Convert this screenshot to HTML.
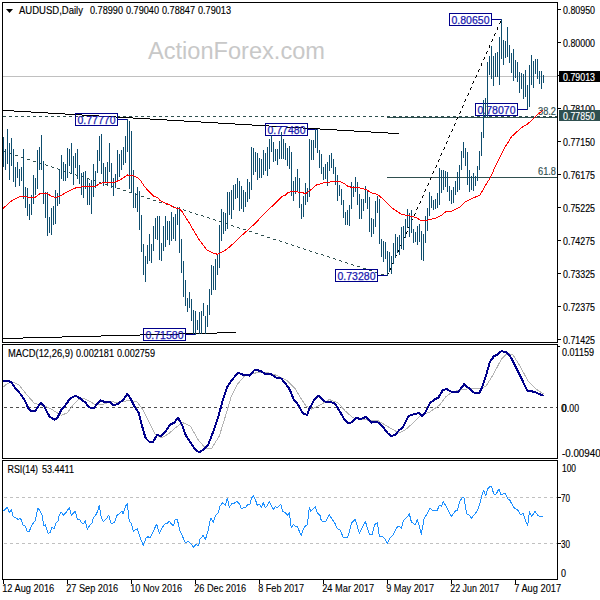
<!DOCTYPE html><html><head><meta charset="utf-8"><style>html,body{margin:0;padding:0;background:#fff;width:600px;height:600px;overflow:hidden}svg{display:block}</style></head><body>
<svg width="600" height="600" viewBox="0 0 600 600" font-family="Liberation Sans, sans-serif">
<rect x="0" y="0" width="600" height="600" fill="#fff"/>
<text x="148" y="58.5" font-size="23.5" fill="#C8C8C8" textLength="177" lengthAdjust="spacingAndGlyphs">ActionForex.com</text>
<rect x="3" y="76" width="554" height="1" fill="#C0C0C0"/>
<g fill="#2F4F4F" shape-rendering="crispEdges"><rect x="3" y="116" width="3" height="1"/><rect x="9" y="116" width="3" height="1"/><rect x="15" y="116" width="3" height="1"/><rect x="21" y="116" width="3" height="1"/><rect x="27" y="116" width="3" height="1"/><rect x="33" y="116" width="3" height="1"/><rect x="39" y="116" width="3" height="1"/><rect x="45" y="116" width="3" height="1"/><rect x="51" y="116" width="3" height="1"/><rect x="57" y="116" width="3" height="1"/><rect x="63" y="116" width="3" height="1"/><rect x="69" y="116" width="3" height="1"/><rect x="75" y="116" width="3" height="1"/><rect x="81" y="116" width="3" height="1"/><rect x="87" y="116" width="3" height="1"/><rect x="93" y="116" width="3" height="1"/><rect x="99" y="116" width="3" height="1"/><rect x="105" y="116" width="3" height="1"/><rect x="111" y="116" width="3" height="1"/><rect x="117" y="116" width="3" height="1"/><rect x="123" y="116" width="3" height="1"/><rect x="129" y="116" width="3" height="1"/><rect x="135" y="116" width="3" height="1"/><rect x="141" y="116" width="3" height="1"/><rect x="147" y="116" width="3" height="1"/><rect x="153" y="116" width="3" height="1"/><rect x="159" y="116" width="3" height="1"/><rect x="165" y="116" width="3" height="1"/><rect x="171" y="116" width="3" height="1"/><rect x="177" y="116" width="3" height="1"/><rect x="183" y="116" width="3" height="1"/><rect x="189" y="116" width="3" height="1"/><rect x="195" y="116" width="3" height="1"/><rect x="201" y="116" width="3" height="1"/><rect x="207" y="116" width="3" height="1"/><rect x="213" y="116" width="3" height="1"/><rect x="219" y="116" width="3" height="1"/><rect x="225" y="116" width="3" height="1"/><rect x="231" y="116" width="3" height="1"/><rect x="237" y="116" width="3" height="1"/><rect x="243" y="116" width="3" height="1"/><rect x="249" y="116" width="3" height="1"/><rect x="255" y="116" width="3" height="1"/><rect x="261" y="116" width="3" height="1"/><rect x="267" y="116" width="3" height="1"/><rect x="273" y="116" width="3" height="1"/><rect x="279" y="116" width="3" height="1"/><rect x="285" y="116" width="3" height="1"/><rect x="291" y="116" width="3" height="1"/><rect x="297" y="116" width="3" height="1"/><rect x="303" y="116" width="3" height="1"/><rect x="309" y="116" width="3" height="1"/><rect x="315" y="116" width="3" height="1"/><rect x="321" y="116" width="3" height="1"/><rect x="327" y="116" width="3" height="1"/><rect x="333" y="116" width="3" height="1"/><rect x="339" y="116" width="3" height="1"/><rect x="345" y="116" width="3" height="1"/><rect x="351" y="116" width="3" height="1"/><rect x="357" y="116" width="3" height="1"/><rect x="363" y="116" width="3" height="1"/><rect x="369" y="116" width="3" height="1"/><rect x="375" y="116" width="3" height="1"/><rect x="381" y="116" width="3" height="1"/><rect x="387" y="116" width="3" height="1"/><rect x="393" y="116" width="3" height="1"/><rect x="399" y="116" width="3" height="1"/><rect x="405" y="116" width="3" height="1"/><rect x="411" y="116" width="3" height="1"/><rect x="417" y="116" width="3" height="1"/><rect x="423" y="116" width="3" height="1"/><rect x="429" y="116" width="3" height="1"/><rect x="435" y="116" width="3" height="1"/><rect x="441" y="116" width="3" height="1"/><rect x="447" y="116" width="3" height="1"/><rect x="453" y="116" width="3" height="1"/><rect x="459" y="116" width="3" height="1"/><rect x="465" y="116" width="3" height="1"/><rect x="471" y="116" width="3" height="1"/><rect x="477" y="116" width="3" height="1"/><rect x="483" y="116" width="3" height="1"/><rect x="489" y="116" width="3" height="1"/><rect x="495" y="116" width="3" height="1"/><rect x="501" y="116" width="3" height="1"/><rect x="507" y="116" width="3" height="1"/><rect x="513" y="116" width="3" height="1"/><rect x="519" y="116" width="3" height="1"/><rect x="525" y="116" width="3" height="1"/><rect x="531" y="116" width="3" height="1"/><rect x="537" y="116" width="3" height="1"/><rect x="543" y="116" width="3" height="1"/><rect x="549" y="116" width="3" height="1"/><rect x="555" y="116" width="2" height="1"/></g>
<rect x="387" y="117" width="170" height="1" fill="#2F4F4F"/>
<rect x="387" y="177" width="170" height="1" fill="#2F4F4F"/>
<text x="538" y="115" font-size="10" fill="#2F4F4F" textLength="18" lengthAdjust="spacingAndGlyphs" stroke="#2F4F4F" stroke-width="0.15">38.2</text>
<text x="538" y="175" font-size="10" fill="#2F4F4F" textLength="18" lengthAdjust="spacingAndGlyphs" stroke="#2F4F4F" stroke-width="0.15">61.8</text>
<g fill="#000" shape-rendering="crispEdges"><rect x="3" y="110" width="11" height="1"/><rect x="14" y="111" width="17" height="1"/><rect x="31" y="112" width="17" height="1"/><rect x="48" y="113" width="17" height="1"/><rect x="65" y="114" width="17" height="1"/><rect x="82" y="115" width="17" height="1"/><rect x="99" y="116" width="17" height="1"/><rect x="116" y="117" width="17" height="1"/><rect x="133" y="118" width="17" height="1"/><rect x="150" y="119" width="17" height="1"/><rect x="167" y="120" width="17" height="1"/><rect x="184" y="121" width="17" height="1"/><rect x="201" y="122" width="17" height="1"/><rect x="218" y="123" width="17" height="1"/><rect x="235" y="124" width="17" height="1"/><rect x="252" y="125" width="17" height="1"/><rect x="269" y="126" width="17" height="1"/><rect x="286" y="127" width="17" height="1"/><rect x="303" y="128" width="17" height="1"/><rect x="320" y="129" width="17" height="1"/><rect x="337" y="130" width="17" height="1"/><rect x="354" y="131" width="17" height="1"/><rect x="371" y="132" width="17" height="1"/><rect x="388" y="133" width="11" height="1"/></g>
<g fill="#000" shape-rendering="crispEdges"><rect x="3" y="338" width="20" height="1"/><rect x="23" y="337" width="39" height="1"/><rect x="62" y="336" width="39" height="1"/><rect x="101" y="335" width="39" height="1"/><rect x="140" y="334" width="39" height="1"/><rect x="179" y="333" width="38" height="1"/><rect x="217" y="332" width="19" height="1"/></g>
<g fill="#2F4F4F" shape-rendering="crispEdges"><rect x="3" y="151" width="3" height="1"/><rect x="9" y="153" width="3" height="1"/><rect x="15" y="155" width="3" height="1"/><rect x="21" y="157" width="3" height="1"/><rect x="27" y="159" width="3" height="1"/><rect x="33" y="161" width="3" height="1"/><rect x="39" y="162" width="1" height="1"/><rect x="40" y="163" width="2" height="1"/><rect x="45" y="164" width="1" height="1"/><rect x="46" y="165" width="2" height="1"/><rect x="51" y="166" width="1" height="1"/><rect x="52" y="167" width="2" height="1"/><rect x="57" y="168" width="1" height="1"/><rect x="58" y="169" width="2" height="1"/><rect x="63" y="170" width="1" height="1"/><rect x="64" y="171" width="2" height="1"/><rect x="69" y="172" width="1" height="1"/><rect x="70" y="173" width="2" height="1"/><rect x="75" y="174" width="1" height="1"/><rect x="76" y="175" width="2" height="1"/><rect x="81" y="176" width="2" height="1"/><rect x="83" y="177" width="1" height="1"/><rect x="87" y="178" width="2" height="1"/><rect x="89" y="179" width="1" height="1"/><rect x="93" y="180" width="2" height="1"/><rect x="95" y="181" width="1" height="1"/><rect x="99" y="182" width="2" height="1"/><rect x="101" y="183" width="1" height="1"/><rect x="105" y="184" width="2" height="1"/><rect x="107" y="185" width="1" height="1"/><rect x="111" y="186" width="2" height="1"/><rect x="113" y="187" width="1" height="1"/><rect x="117" y="188" width="3" height="1"/><rect x="123" y="190" width="3" height="1"/><rect x="129" y="192" width="3" height="1"/><rect x="135" y="194" width="3" height="1"/><rect x="141" y="196" width="3" height="1"/><rect x="147" y="198" width="3" height="1"/><rect x="153" y="200" width="3" height="1"/><rect x="159" y="202" width="3" height="1"/><rect x="165" y="203" width="1" height="1"/><rect x="166" y="204" width="2" height="1"/><rect x="171" y="205" width="1" height="1"/><rect x="172" y="206" width="2" height="1"/><rect x="177" y="207" width="1" height="1"/><rect x="178" y="208" width="2" height="1"/><rect x="183" y="209" width="1" height="1"/><rect x="184" y="210" width="2" height="1"/><rect x="189" y="211" width="1" height="1"/><rect x="190" y="212" width="2" height="1"/><rect x="195" y="213" width="1" height="1"/><rect x="196" y="214" width="2" height="1"/><rect x="201" y="215" width="2" height="1"/><rect x="203" y="216" width="1" height="1"/><rect x="207" y="217" width="2" height="1"/><rect x="209" y="218" width="1" height="1"/><rect x="213" y="219" width="2" height="1"/><rect x="215" y="220" width="1" height="1"/><rect x="219" y="221" width="2" height="1"/><rect x="221" y="222" width="1" height="1"/><rect x="225" y="223" width="2" height="1"/><rect x="227" y="224" width="1" height="1"/><rect x="231" y="225" width="2" height="1"/><rect x="233" y="226" width="1" height="1"/><rect x="237" y="227" width="2" height="1"/><rect x="239" y="228" width="1" height="1"/><rect x="243" y="229" width="3" height="1"/><rect x="249" y="231" width="3" height="1"/><rect x="255" y="233" width="3" height="1"/><rect x="261" y="235" width="3" height="1"/><rect x="267" y="237" width="3" height="1"/><rect x="273" y="239" width="3" height="1"/><rect x="279" y="240" width="1" height="1"/><rect x="280" y="241" width="2" height="1"/><rect x="285" y="242" width="1" height="1"/><rect x="286" y="243" width="2" height="1"/><rect x="291" y="244" width="1" height="1"/><rect x="292" y="245" width="2" height="1"/><rect x="297" y="246" width="1" height="1"/><rect x="298" y="247" width="2" height="1"/><rect x="303" y="248" width="1" height="1"/><rect x="304" y="249" width="2" height="1"/><rect x="309" y="250" width="1" height="1"/><rect x="310" y="251" width="2" height="1"/><rect x="315" y="252" width="1" height="1"/><rect x="316" y="253" width="2" height="1"/><rect x="321" y="254" width="2" height="1"/><rect x="323" y="255" width="1" height="1"/><rect x="327" y="256" width="2" height="1"/><rect x="329" y="257" width="1" height="1"/><rect x="333" y="258" width="2" height="1"/><rect x="335" y="259" width="1" height="1"/><rect x="339" y="260" width="2" height="1"/><rect x="341" y="261" width="1" height="1"/><rect x="345" y="262" width="2" height="1"/><rect x="347" y="263" width="1" height="1"/><rect x="351" y="264" width="2" height="1"/><rect x="353" y="265" width="1" height="1"/><rect x="357" y="266" width="3" height="1"/><rect x="363" y="268" width="3" height="1"/><rect x="369" y="270" width="3" height="1"/><rect x="375" y="272" width="3" height="1"/><rect x="381" y="274" width="3" height="1"/></g>
<g fill="#000" shape-rendering="crispEdges"><rect x="500" y="21" width="1" height="1"/><rect x="500" y="22" width="1" height="1"/><rect x="499" y="23" width="1" height="1"/><rect x="497" y="27" width="1" height="1"/><rect x="497" y="28" width="1" height="1"/><rect x="497" y="29" width="1" height="1"/><rect x="495" y="33" width="1" height="1"/><rect x="494" y="34" width="1" height="1"/><rect x="494" y="35" width="1" height="1"/><rect x="492" y="39" width="1" height="1"/><rect x="492" y="40" width="1" height="1"/><rect x="491" y="41" width="1" height="1"/><rect x="489" y="45" width="1" height="1"/><rect x="489" y="46" width="1" height="1"/><rect x="489" y="47" width="1" height="1"/><rect x="487" y="51" width="1" height="1"/><rect x="486" y="52" width="1" height="1"/><rect x="486" y="53" width="1" height="1"/><rect x="484" y="57" width="1" height="1"/><rect x="484" y="58" width="1" height="1"/><rect x="483" y="59" width="1" height="1"/><rect x="481" y="63" width="1" height="1"/><rect x="481" y="64" width="1" height="1"/><rect x="481" y="65" width="1" height="1"/><rect x="479" y="69" width="1" height="1"/><rect x="478" y="70" width="1" height="1"/><rect x="478" y="71" width="1" height="1"/><rect x="476" y="75" width="1" height="1"/><rect x="476" y="76" width="1" height="1"/><rect x="475" y="77" width="1" height="1"/><rect x="473" y="81" width="1" height="1"/><rect x="473" y="82" width="1" height="1"/><rect x="472" y="83" width="1" height="1"/><rect x="471" y="87" width="1" height="1"/><rect x="470" y="88" width="1" height="1"/><rect x="470" y="89" width="1" height="1"/><rect x="468" y="93" width="1" height="1"/><rect x="468" y="94" width="1" height="1"/><rect x="467" y="95" width="1" height="1"/><rect x="465" y="99" width="1" height="1"/><rect x="465" y="100" width="1" height="1"/><rect x="464" y="101" width="1" height="1"/><rect x="463" y="105" width="1" height="1"/><rect x="462" y="106" width="1" height="1"/><rect x="462" y="107" width="1" height="1"/><rect x="460" y="111" width="1" height="1"/><rect x="460" y="112" width="1" height="1"/><rect x="459" y="113" width="1" height="1"/><rect x="457" y="117" width="1" height="1"/><rect x="457" y="118" width="1" height="1"/><rect x="456" y="119" width="1" height="1"/><rect x="455" y="123" width="1" height="1"/><rect x="454" y="124" width="1" height="1"/><rect x="454" y="125" width="1" height="1"/><rect x="452" y="129" width="1" height="1"/><rect x="452" y="130" width="1" height="1"/><rect x="451" y="131" width="1" height="1"/><rect x="449" y="135" width="1" height="1"/><rect x="449" y="136" width="1" height="1"/><rect x="448" y="137" width="1" height="1"/><rect x="447" y="141" width="1" height="1"/><rect x="446" y="142" width="1" height="1"/><rect x="446" y="143" width="1" height="1"/><rect x="444" y="147" width="1" height="1"/><rect x="444" y="148" width="1" height="1"/><rect x="443" y="149" width="1" height="1"/><rect x="441" y="153" width="1" height="1"/><rect x="441" y="154" width="1" height="1"/><rect x="440" y="155" width="1" height="1"/><rect x="439" y="159" width="1" height="1"/><rect x="438" y="160" width="1" height="1"/><rect x="438" y="161" width="1" height="1"/><rect x="436" y="165" width="1" height="1"/><rect x="436" y="166" width="1" height="1"/><rect x="435" y="167" width="1" height="1"/><rect x="433" y="171" width="1" height="1"/><rect x="433" y="172" width="1" height="1"/><rect x="432" y="173" width="1" height="1"/><rect x="431" y="177" width="1" height="1"/><rect x="430" y="178" width="1" height="1"/><rect x="430" y="179" width="1" height="1"/><rect x="428" y="183" width="1" height="1"/><rect x="428" y="184" width="1" height="1"/><rect x="427" y="185" width="1" height="1"/><rect x="425" y="189" width="1" height="1"/><rect x="425" y="190" width="1" height="1"/><rect x="424" y="191" width="1" height="1"/><rect x="423" y="195" width="1" height="1"/><rect x="422" y="196" width="1" height="1"/><rect x="422" y="197" width="1" height="1"/><rect x="420" y="201" width="1" height="1"/><rect x="420" y="202" width="1" height="1"/><rect x="419" y="203" width="1" height="1"/><rect x="417" y="207" width="1" height="1"/><rect x="417" y="208" width="1" height="1"/><rect x="416" y="209" width="1" height="1"/><rect x="415" y="213" width="1" height="1"/><rect x="414" y="214" width="1" height="1"/><rect x="414" y="215" width="1" height="1"/><rect x="412" y="219" width="1" height="1"/><rect x="411" y="220" width="1" height="1"/><rect x="411" y="221" width="1" height="1"/><rect x="409" y="225" width="1" height="1"/><rect x="409" y="226" width="1" height="1"/><rect x="408" y="227" width="1" height="1"/><rect x="407" y="231" width="1" height="1"/><rect x="406" y="232" width="1" height="1"/><rect x="406" y="233" width="1" height="1"/><rect x="404" y="237" width="1" height="1"/><rect x="403" y="238" width="1" height="1"/><rect x="403" y="239" width="1" height="1"/><rect x="401" y="243" width="1" height="1"/><rect x="401" y="244" width="1" height="1"/><rect x="400" y="245" width="1" height="1"/><rect x="399" y="249" width="1" height="1"/><rect x="398" y="250" width="1" height="1"/><rect x="398" y="251" width="1" height="1"/><rect x="396" y="255" width="1" height="1"/><rect x="395" y="256" width="1" height="1"/><rect x="395" y="257" width="1" height="1"/><rect x="393" y="261" width="1" height="1"/><rect x="393" y="262" width="1" height="1"/><rect x="392" y="263" width="1" height="1"/><rect x="391" y="267" width="1" height="1"/><rect x="390" y="268" width="1" height="1"/><rect x="390" y="269" width="1" height="1"/><rect x="388" y="273" width="1" height="1"/><rect x="387" y="274" width="1" height="1"/><rect x="387" y="275" width="1" height="1"/></g>
<rect x="75.5" y="113.5" width="42" height="12" fill="none" stroke="#00008B" stroke-width="1" shape-rendering="crispEdges"/>
<rect x="118" y="119" width="9" height="1" fill="#00008B"/>
<text x="77.5" y="124" font-size="11" fill="#1A1AB0" textLength="38" lengthAdjust="spacingAndGlyphs" stroke="#1A1AB0" stroke-width="0.25">0.77770</text>
<rect x="265.5" y="123.5" width="42" height="12" fill="none" stroke="#00008B" stroke-width="1" shape-rendering="crispEdges"/>
<rect x="308" y="129" width="9" height="1" fill="#00008B"/>
<text x="267.5" y="134" font-size="11" fill="#1A1AB0" textLength="38" lengthAdjust="spacingAndGlyphs" stroke="#1A1AB0" stroke-width="0.25">0.77480</text>
<rect x="449.5" y="13.5" width="42" height="12" fill="none" stroke="#00008B" stroke-width="1" shape-rendering="crispEdges"/>
<rect x="492" y="19" width="9" height="1" fill="#00008B"/>
<text x="451.5" y="24" font-size="11" fill="#1A1AB0" textLength="38" lengthAdjust="spacingAndGlyphs" stroke="#1A1AB0" stroke-width="0.25">0.80650</text>
<rect x="475.5" y="103.5" width="42" height="12" fill="none" stroke="#00008B" stroke-width="1" shape-rendering="crispEdges"/>
<rect x="518" y="109" width="9" height="1" fill="#00008B"/>
<text x="477.5" y="114" font-size="11" fill="#1A1AB0" textLength="38" lengthAdjust="spacingAndGlyphs" stroke="#1A1AB0" stroke-width="0.25">0.78070</text>
<rect x="335.5" y="269.5" width="42" height="12" fill="none" stroke="#00008B" stroke-width="1" shape-rendering="crispEdges"/>
<rect x="378" y="275" width="9" height="1" fill="#00008B"/>
<text x="337.5" y="280" font-size="11" fill="#1A1AB0" textLength="38" lengthAdjust="spacingAndGlyphs" stroke="#1A1AB0" stroke-width="0.25">0.73280</text>
<rect x="143.5" y="328.5" width="42" height="12" fill="none" stroke="#00008B" stroke-width="1" shape-rendering="crispEdges"/>
<rect x="186" y="334" width="9" height="1" fill="#00008B"/>
<text x="145.5" y="339" font-size="11" fill="#1A1AB0" textLength="38" lengthAdjust="spacingAndGlyphs" stroke="#1A1AB0" stroke-width="0.25">0.71580</text>
<g fill="#0E4D6E" shape-rendering="crispEdges"><rect x="3" y="137" width="1" height="30"/><rect x="5" y="149" width="1" height="21"/><rect x="7" y="129" width="1" height="35"/><rect x="9" y="143" width="1" height="37"/><rect x="11" y="138" width="1" height="28"/><rect x="13" y="149" width="1" height="33"/><rect x="15" y="167" width="1" height="20"/><rect x="17" y="162" width="1" height="16"/><rect x="19" y="169" width="1" height="17"/><rect x="21" y="167" width="1" height="14"/><rect x="23" y="149" width="1" height="50"/><rect x="25" y="187" width="1" height="21"/><rect x="27" y="188" width="1" height="28"/><rect x="29" y="204" width="1" height="16"/><rect x="31" y="195" width="1" height="20"/><rect x="33" y="175" width="1" height="29"/><rect x="35" y="178" width="1" height="17"/><rect x="37" y="150" width="1" height="39"/><rect x="39" y="147" width="1" height="23"/><rect x="41" y="135" width="1" height="35"/><rect x="43" y="161" width="1" height="43"/><rect x="45" y="192" width="1" height="26"/><rect x="47" y="192" width="1" height="44"/><rect x="49" y="217" width="1" height="16"/><rect x="51" y="208" width="1" height="27"/><rect x="53" y="206" width="1" height="19"/><rect x="55" y="190" width="1" height="34"/><rect x="57" y="193" width="1" height="13"/><rect x="59" y="169" width="1" height="35"/><rect x="61" y="155" width="1" height="24"/><rect x="63" y="162" width="1" height="19"/><rect x="65" y="164" width="1" height="17"/><rect x="67" y="148" width="1" height="30"/><rect x="69" y="149" width="1" height="17"/><rect x="71" y="143" width="1" height="31"/><rect x="73" y="156" width="1" height="29"/><rect x="75" y="153" width="1" height="15"/><rect x="77" y="149" width="1" height="30"/><rect x="79" y="165" width="1" height="19"/><rect x="81" y="173" width="1" height="22"/><rect x="83" y="172" width="1" height="26"/><rect x="85" y="171" width="1" height="18"/><rect x="87" y="179" width="1" height="26"/><rect x="89" y="183" width="1" height="22"/><rect x="91" y="180" width="1" height="34"/><rect x="93" y="164" width="1" height="33"/><rect x="95" y="171" width="1" height="17"/><rect x="97" y="150" width="1" height="23"/><rect x="99" y="136" width="1" height="25"/><rect x="101" y="134" width="1" height="40"/><rect x="103" y="163" width="1" height="23"/><rect x="105" y="167" width="1" height="16"/><rect x="107" y="162" width="1" height="23"/><rect x="109" y="143" width="1" height="29"/><rect x="111" y="163" width="1" height="25"/><rect x="113" y="178" width="1" height="18"/><rect x="115" y="174" width="1" height="14"/><rect x="117" y="150" width="1" height="31"/><rect x="119" y="154" width="1" height="23"/><rect x="121" y="150" width="1" height="20"/><rect x="123" y="147" width="1" height="18"/><rect x="125" y="136" width="1" height="27"/><rect x="127" y="119" width="1" height="33"/><rect x="129" y="121" width="1" height="68"/><rect x="131" y="131" width="1" height="62"/><rect x="133" y="170" width="1" height="38"/><rect x="135" y="193" width="1" height="15"/><rect x="137" y="187" width="1" height="25"/><rect x="139" y="191" width="1" height="39"/><rect x="141" y="215" width="1" height="37"/><rect x="143" y="244" width="1" height="31"/><rect x="145" y="256" width="1" height="26"/><rect x="147" y="245" width="1" height="19"/><rect x="149" y="234" width="1" height="27"/><rect x="151" y="244" width="1" height="19"/><rect x="153" y="226" width="1" height="25"/><rect x="155" y="218" width="1" height="21"/><rect x="157" y="216" width="1" height="24"/><rect x="159" y="216" width="1" height="44"/><rect x="161" y="243" width="1" height="18"/><rect x="163" y="226" width="1" height="25"/><rect x="165" y="216" width="1" height="31"/><rect x="167" y="221" width="1" height="19"/><rect x="169" y="221" width="1" height="24"/><rect x="171" y="212" width="1" height="29"/><rect x="173" y="217" width="1" height="22"/><rect x="175" y="214" width="1" height="27"/><rect x="177" y="208" width="1" height="17"/><rect x="179" y="207" width="1" height="46"/><rect x="181" y="239" width="1" height="34"/><rect x="183" y="261" width="1" height="36"/><rect x="185" y="280" width="1" height="26"/><rect x="187" y="298" width="1" height="14"/><rect x="189" y="292" width="1" height="16"/><rect x="191" y="299" width="1" height="22"/><rect x="193" y="310" width="1" height="24"/><rect x="195" y="311" width="1" height="24"/><rect x="197" y="320" width="1" height="10"/><rect x="199" y="312" width="1" height="22"/><rect x="201" y="311" width="1" height="23"/><rect x="203" y="303" width="1" height="13"/><rect x="205" y="316" width="1" height="18"/><rect x="207" y="305" width="1" height="22"/><rect x="209" y="289" width="1" height="26"/><rect x="211" y="265" width="1" height="30"/><rect x="213" y="266" width="1" height="24"/><rect x="215" y="259" width="1" height="31"/><rect x="217" y="254" width="1" height="21"/><rect x="219" y="225" width="1" height="43"/><rect x="221" y="209" width="1" height="32"/><rect x="223" y="212" width="1" height="22"/><rect x="225" y="213" width="1" height="18"/><rect x="227" y="192" width="1" height="37"/><rect x="229" y="192" width="1" height="23"/><rect x="231" y="190" width="1" height="29"/><rect x="233" y="185" width="1" height="25"/><rect x="235" y="184" width="1" height="15"/><rect x="237" y="178" width="1" height="20"/><rect x="239" y="181" width="1" height="30"/><rect x="241" y="186" width="1" height="23"/><rect x="243" y="190" width="1" height="22"/><rect x="245" y="192" width="1" height="15"/><rect x="247" y="179" width="1" height="23"/><rect x="249" y="182" width="1" height="17"/><rect x="251" y="147" width="1" height="43"/><rect x="253" y="148" width="1" height="27"/><rect x="255" y="152" width="1" height="20"/><rect x="257" y="153" width="1" height="27"/><rect x="259" y="158" width="1" height="20"/><rect x="261" y="159" width="1" height="19"/><rect x="263" y="150" width="1" height="25"/><rect x="265" y="153" width="1" height="18"/><rect x="267" y="147" width="1" height="29"/><rect x="269" y="139" width="1" height="30"/><rect x="271" y="135" width="1" height="17"/><rect x="273" y="142" width="1" height="20"/><rect x="275" y="149" width="1" height="12"/><rect x="277" y="149" width="1" height="16"/><rect x="279" y="141" width="1" height="18"/><rect x="281" y="132" width="1" height="27"/><rect x="283" y="139" width="1" height="20"/><rect x="285" y="143" width="1" height="17"/><rect x="287" y="148" width="1" height="18"/><rect x="289" y="146" width="1" height="23"/><rect x="291" y="152" width="1" height="44"/><rect x="293" y="181" width="1" height="20"/><rect x="295" y="177" width="1" height="17"/><rect x="297" y="169" width="1" height="23"/><rect x="299" y="178" width="1" height="30"/><rect x="301" y="204" width="1" height="15"/><rect x="303" y="196" width="1" height="21"/><rect x="305" y="183" width="1" height="22"/><rect x="307" y="188" width="1" height="14"/><rect x="309" y="139" width="1" height="58"/><rect x="311" y="140" width="1" height="20"/><rect x="313" y="140" width="1" height="20"/><rect x="315" y="129" width="1" height="19"/><rect x="317" y="129" width="1" height="24"/><rect x="319" y="150" width="1" height="18"/><rect x="321" y="154" width="1" height="20"/><rect x="323" y="167" width="1" height="13"/><rect x="325" y="164" width="1" height="15"/><rect x="327" y="162" width="1" height="24"/><rect x="329" y="155" width="1" height="16"/><rect x="331" y="153" width="1" height="15"/><rect x="333" y="159" width="1" height="15"/><rect x="335" y="167" width="1" height="18"/><rect x="337" y="175" width="1" height="26"/><rect x="339" y="185" width="1" height="11"/><rect x="341" y="189" width="1" height="16"/><rect x="343" y="200" width="1" height="18"/><rect x="345" y="212" width="1" height="13"/><rect x="347" y="210" width="1" height="15"/><rect x="349" y="205" width="1" height="21"/><rect x="351" y="182" width="1" height="27"/><rect x="353" y="186" width="1" height="11"/><rect x="355" y="177" width="1" height="15"/><rect x="357" y="182" width="1" height="23"/><rect x="359" y="194" width="1" height="25"/><rect x="361" y="199" width="1" height="20"/><rect x="363" y="199" width="1" height="12"/><rect x="365" y="186" width="1" height="17"/><rect x="367" y="191" width="1" height="18"/><rect x="369" y="197" width="1" height="35"/><rect x="371" y="218" width="1" height="19"/><rect x="373" y="219" width="1" height="15"/><rect x="375" y="201" width="1" height="26"/><rect x="377" y="196" width="1" height="17"/><rect x="379" y="199" width="1" height="45"/><rect x="381" y="239" width="1" height="18"/><rect x="383" y="241" width="1" height="21"/><rect x="385" y="242" width="1" height="17"/><rect x="387" y="251" width="1" height="25"/><rect x="389" y="252" width="1" height="20"/><rect x="391" y="256" width="1" height="18"/><rect x="393" y="243" width="1" height="21"/><rect x="395" y="234" width="1" height="24"/><rect x="397" y="237" width="1" height="16"/><rect x="399" y="235" width="1" height="20"/><rect x="401" y="227" width="1" height="22"/><rect x="403" y="226" width="1" height="24"/><rect x="405" y="219" width="1" height="19"/><rect x="407" y="209" width="1" height="19"/><rect x="409" y="213" width="1" height="24"/><rect x="411" y="210" width="1" height="23"/><rect x="413" y="229" width="1" height="14"/><rect x="415" y="232" width="1" height="10"/><rect x="417" y="226" width="1" height="19"/><rect x="419" y="224" width="1" height="18"/><rect x="421" y="231" width="1" height="29"/><rect x="423" y="234" width="1" height="27"/><rect x="425" y="216" width="1" height="27"/><rect x="427" y="208" width="1" height="23"/><rect x="429" y="192" width="1" height="24"/><rect x="431" y="196" width="1" height="12"/><rect x="433" y="200" width="1" height="10"/><rect x="435" y="199" width="1" height="10"/><rect x="437" y="193" width="1" height="15"/><rect x="439" y="168" width="1" height="37"/><rect x="441" y="170" width="1" height="23"/><rect x="443" y="170" width="1" height="20"/><rect x="445" y="171" width="1" height="16"/><rect x="447" y="172" width="1" height="20"/><rect x="449" y="186" width="1" height="15"/><rect x="451" y="190" width="1" height="14"/><rect x="453" y="187" width="1" height="16"/><rect x="455" y="181" width="1" height="14"/><rect x="457" y="172" width="1" height="20"/><rect x="459" y="165" width="1" height="25"/><rect x="461" y="151" width="1" height="19"/><rect x="463" y="142" width="1" height="16"/><rect x="465" y="148" width="1" height="18"/><rect x="467" y="152" width="1" height="33"/><rect x="469" y="170" width="1" height="22"/><rect x="471" y="176" width="1" height="14"/><rect x="473" y="173" width="1" height="18"/><rect x="475" y="176" width="1" height="10"/><rect x="477" y="166" width="1" height="15"/><rect x="479" y="151" width="1" height="19"/><rect x="481" y="132" width="1" height="24"/><rect x="483" y="100" width="1" height="38"/><rect x="485" y="98" width="1" height="19"/><rect x="487" y="62" width="1" height="55"/><rect x="489" y="56" width="1" height="19"/><rect x="491" y="46" width="1" height="33"/><rect x="493" y="56" width="1" height="30"/><rect x="495" y="53" width="1" height="24"/><rect x="497" y="52" width="1" height="25"/><rect x="499" y="37" width="1" height="48"/><rect x="501" y="19" width="1" height="40"/><rect x="503" y="40" width="1" height="25"/><rect x="505" y="41" width="1" height="17"/><rect x="507" y="27" width="1" height="30"/><rect x="509" y="45" width="1" height="18"/><rect x="511" y="53" width="1" height="20"/><rect x="513" y="49" width="1" height="32"/><rect x="515" y="60" width="1" height="18"/><rect x="517" y="62" width="1" height="20"/><rect x="519" y="72" width="1" height="21"/><rect x="521" y="73" width="1" height="16"/><rect x="523" y="74" width="1" height="25"/><rect x="525" y="70" width="1" height="27"/><rect x="527" y="85" width="1" height="25"/><rect x="529" y="65" width="1" height="42"/><rect x="531" y="55" width="1" height="30"/><rect x="533" y="61" width="1" height="27"/><rect x="535" y="59" width="1" height="15"/><rect x="537" y="59" width="1" height="20"/><rect x="539" y="71" width="1" height="13"/><rect x="541" y="71" width="1" height="18"/><rect x="543" y="75" width="1" height="8"/></g>
<polyline fill="none" stroke="#FF0000" stroke-width="1" stroke-linejoin="round" shape-rendering="crispEdges" points="3.0,208.5 12.0,200.5 20.0,196.5 27.0,197.0 35.0,197.5 40.0,193.5 46.0,193.0 52.0,196.5 56.0,197.5 60.0,196.0 68.0,191.5 76.5,187.5 85.0,186.5 94.0,187.0 100.0,183.5 107.0,182.0 115.0,182.0 120.0,180.0 127.5,175.0 133.0,175.5 137.5,177.5 141.0,181.0 144.0,186.0 149.0,191.5 154.0,196.5 157.5,197.5 160.0,200.5 164.0,202.5 170.0,205.0 174.0,207.5 180.0,209.0 183.0,213.0 186.0,218.0 190.0,224.0 193.0,229.5 200.0,241.0 207.0,250.0 213.0,253.0 217.5,254.3 220.0,253.2 225.0,250.5 230.0,246.5 235.0,242.0 240.0,237.0 254.0,224.5 265.0,213.0 275.0,203.5 282.5,196.2 285.0,195.5 288.5,192.2 294.0,191.5 300.0,192.3 306.0,193.5 310.0,190.5 316.5,185.0 323.0,183.0 330.0,182.0 340.0,181.5 344.0,183.5 347.5,186.0 352.0,187.5 358.0,187.5 366.0,189.5 372.0,193.0 377.5,194.5 383.0,199.0 387.0,203.0 392.0,208.0 398.0,212.0 402.0,214.5 408.0,215.5 416.0,217.5 421.0,220.5 428.0,220.0 432.0,219.0 436.0,218.0 442.0,215.0 446.0,211.5 452.0,211.0 460.0,207.0 465.0,202.0 470.0,199.5 480.0,195.0 486.3,184.1 491.1,176.2 495.8,165.1 503.7,149.3 511.6,136.6 521.1,127.9 527.5,124.0 533.8,118.4 538.5,113.7 543.0,110.5"/>
<g fill="#505050" shape-rendering="crispEdges"><rect x="4" y="407" width="3" height="1"/><rect x="10" y="407" width="3" height="1"/><rect x="16" y="407" width="3" height="1"/><rect x="22" y="407" width="3" height="1"/><rect x="28" y="407" width="3" height="1"/><rect x="34" y="407" width="3" height="1"/><rect x="40" y="407" width="3" height="1"/><rect x="46" y="407" width="3" height="1"/><rect x="52" y="407" width="3" height="1"/><rect x="58" y="407" width="3" height="1"/><rect x="64" y="407" width="3" height="1"/><rect x="70" y="407" width="3" height="1"/><rect x="76" y="407" width="3" height="1"/><rect x="82" y="407" width="3" height="1"/><rect x="88" y="407" width="3" height="1"/><rect x="94" y="407" width="3" height="1"/><rect x="100" y="407" width="3" height="1"/><rect x="106" y="407" width="3" height="1"/><rect x="112" y="407" width="3" height="1"/><rect x="118" y="407" width="3" height="1"/><rect x="124" y="407" width="3" height="1"/><rect x="130" y="407" width="3" height="1"/><rect x="136" y="407" width="3" height="1"/><rect x="142" y="407" width="3" height="1"/><rect x="148" y="407" width="3" height="1"/><rect x="154" y="407" width="3" height="1"/><rect x="160" y="407" width="3" height="1"/><rect x="166" y="407" width="3" height="1"/><rect x="172" y="407" width="3" height="1"/><rect x="178" y="407" width="3" height="1"/><rect x="184" y="407" width="3" height="1"/><rect x="190" y="407" width="3" height="1"/><rect x="196" y="407" width="3" height="1"/><rect x="202" y="407" width="3" height="1"/><rect x="208" y="407" width="3" height="1"/><rect x="214" y="407" width="3" height="1"/><rect x="220" y="407" width="3" height="1"/><rect x="226" y="407" width="3" height="1"/><rect x="232" y="407" width="3" height="1"/><rect x="238" y="407" width="3" height="1"/><rect x="244" y="407" width="3" height="1"/><rect x="250" y="407" width="3" height="1"/><rect x="256" y="407" width="3" height="1"/><rect x="262" y="407" width="3" height="1"/><rect x="268" y="407" width="3" height="1"/><rect x="274" y="407" width="3" height="1"/><rect x="280" y="407" width="3" height="1"/><rect x="286" y="407" width="3" height="1"/><rect x="292" y="407" width="3" height="1"/><rect x="298" y="407" width="3" height="1"/><rect x="304" y="407" width="3" height="1"/><rect x="310" y="407" width="3" height="1"/><rect x="316" y="407" width="3" height="1"/><rect x="322" y="407" width="3" height="1"/><rect x="328" y="407" width="3" height="1"/><rect x="334" y="407" width="3" height="1"/><rect x="340" y="407" width="3" height="1"/><rect x="346" y="407" width="3" height="1"/><rect x="352" y="407" width="3" height="1"/><rect x="358" y="407" width="3" height="1"/><rect x="364" y="407" width="3" height="1"/><rect x="370" y="407" width="3" height="1"/><rect x="376" y="407" width="3" height="1"/><rect x="382" y="407" width="3" height="1"/><rect x="388" y="407" width="3" height="1"/><rect x="394" y="407" width="3" height="1"/><rect x="400" y="407" width="3" height="1"/><rect x="406" y="407" width="3" height="1"/><rect x="412" y="407" width="3" height="1"/><rect x="418" y="407" width="3" height="1"/><rect x="424" y="407" width="3" height="1"/><rect x="430" y="407" width="3" height="1"/><rect x="436" y="407" width="3" height="1"/><rect x="442" y="407" width="3" height="1"/><rect x="448" y="407" width="3" height="1"/><rect x="454" y="407" width="3" height="1"/><rect x="460" y="407" width="3" height="1"/><rect x="466" y="407" width="3" height="1"/><rect x="472" y="407" width="3" height="1"/><rect x="478" y="407" width="3" height="1"/><rect x="484" y="407" width="3" height="1"/><rect x="490" y="407" width="3" height="1"/><rect x="496" y="407" width="3" height="1"/><rect x="502" y="407" width="3" height="1"/><rect x="508" y="407" width="3" height="1"/><rect x="514" y="407" width="3" height="1"/><rect x="520" y="407" width="3" height="1"/><rect x="526" y="407" width="3" height="1"/><rect x="532" y="407" width="3" height="1"/><rect x="538" y="407" width="3" height="1"/><rect x="544" y="407" width="3" height="1"/><rect x="550" y="407" width="3" height="1"/><rect x="556" y="407" width="1" height="1"/></g>
<polyline fill="none" stroke="#B4B4B4" stroke-width="1" stroke-linejoin="round" shape-rendering="crispEdges" points="3.0,387.1 7.7,383.3 13.4,382.3 19.2,385.2 26.8,394.8 34.5,403.4 42.2,405.3 49.8,408.2 57.5,413.0 61.3,415.3 67.1,413.0 72.8,405.3 78.6,399.6 84.3,398.6 90.1,401.5 95.8,405.0 103.5,404.4 110.0,401.5 117.7,402.5 129.2,400.5 136.8,401.5 142.6,409.2 148.3,420.7 155.0,434.1 161.8,437.9 169.4,433.1 177.1,426.4 182.8,422.6 190.5,426.4 198.2,439.8 205.8,448.5 211.6,448.5 219.3,436.0 225.8,414.9 231.5,395.8 237.3,384.3 244.9,375.6 256.4,372.8 267.9,372.8 277.5,375.6 287.1,380.4 294.8,388.1 300.5,397.7 306.3,406.3 312.0,409.2 319.7,405.3 329.3,399.6 337.7,402.5 345.3,411.1 353.0,417.8 362.6,419.7 377.9,420.7 387.5,426.4 399.0,433.1 404.8,430.3 412.4,423.5 420.1,415.9 429.7,412.0 439.3,405.3 445.8,396.7 452.5,391.9 461.1,390.0 472.6,388.1 480.3,389.0 486.0,386.2 493.7,373.7 501.3,359.3 507.1,353.6 512.8,354.5 520.5,367.0 528.2,381.4 535.8,389.0 543.5,393.8"/>
<polyline fill="none" stroke="#00008B" stroke-width="2" stroke-linejoin="round" shape-rendering="crispEdges" points="3.0,381.4 7.7,380.8 11.5,382.3 15.3,388.1 21.1,394.8 24.9,400.5 28.8,409.2 30.7,410.7 35.5,410.7 38.3,406.3 41.2,402.8 44.1,406.3 47.0,412.0 49.8,416.8 54.6,419.7 57.5,417.8 61.3,410.1 66.1,404.4 70.0,398.6 75.7,395.8 80.5,398.6 85.3,402.5 89.1,407.3 93.9,408.2 96.8,404.4 100.6,400.2 104.5,402.1 109.3,401.5 113.8,405.3 118.6,403.4 123.4,399.6 127.3,393.8 131.1,399.6 134.9,407.3 138.8,413.0 141.6,424.5 145.5,437.9 149.3,441.8 153.1,441.8 157.0,435.0 160.8,436.0 165.6,431.2 170.4,424.5 174.2,422.6 178.0,417.8 181.9,424.5 185.7,435.0 190.5,442.7 195.3,449.4 199.1,452.3 203.9,449.4 207.8,445.6 213.5,431.2 218.3,416.8 222.9,399.6 226.7,388.1 231.5,380.4 238.2,372.8 243.0,374.7 249.7,375.6 254.5,369.9 260.3,370.8 266.0,374.3 270.8,373.7 275.6,377.5 281.3,378.5 289.0,388.1 293.8,399.6 298.6,405.3 302.4,413.0 307.2,414.9 309.1,409.2 314.9,398.6 318.7,395.8 324.5,401.5 330.2,402.1 334.8,403.4 339.6,411.1 343.4,417.8 347.3,422.6 351.1,422.6 355.9,417.8 360.7,419.1 366.4,416.8 371.2,422.6 377.0,421.6 381.8,425.5 387.5,433.1 391.3,436.0 395.2,435.0 399.0,430.3 402.8,427.4 408.6,415.9 414.3,414.0 419.1,413.0 422.0,415.9 424.9,413.0 429.7,403.4 434.5,399.6 438.3,397.7 442.9,390.0 446.7,389.0 451.5,391.9 458.2,391.9 464.0,384.3 468.8,388.1 474.5,392.9 479.3,392.9 482.2,387.1 486.0,375.6 489.8,362.2 493.7,356.5 497.5,354.5 501.3,351.3 506.1,352.0 510.9,357.4 516.7,368.9 522.4,380.4 527.2,390.6 534.9,391.9 538.7,393.8 543.5,395.8"/>
<text x="8" y="357" font-size="10" fill="#000" textLength="65" lengthAdjust="spacingAndGlyphs" stroke="#000" stroke-width="0.15">MACD(12,26,9)</text>
<text x="76" y="357" font-size="10" fill="#000" textLength="38" lengthAdjust="spacingAndGlyphs" stroke="#000" stroke-width="0.15">0.002181</text>
<text x="117" y="357" font-size="10" fill="#000" textLength="38" lengthAdjust="spacingAndGlyphs" stroke="#000" stroke-width="0.15">0.002759</text>
<g fill="#C0C0C0" shape-rendering="crispEdges"><rect x="4" y="497" width="3" height="1"/><rect x="10" y="497" width="3" height="1"/><rect x="16" y="497" width="3" height="1"/><rect x="22" y="497" width="3" height="1"/><rect x="28" y="497" width="3" height="1"/><rect x="34" y="497" width="3" height="1"/><rect x="40" y="497" width="3" height="1"/><rect x="46" y="497" width="3" height="1"/><rect x="52" y="497" width="3" height="1"/><rect x="58" y="497" width="3" height="1"/><rect x="64" y="497" width="3" height="1"/><rect x="70" y="497" width="3" height="1"/><rect x="76" y="497" width="3" height="1"/><rect x="82" y="497" width="3" height="1"/><rect x="88" y="497" width="3" height="1"/><rect x="94" y="497" width="3" height="1"/><rect x="100" y="497" width="3" height="1"/><rect x="106" y="497" width="3" height="1"/><rect x="112" y="497" width="3" height="1"/><rect x="118" y="497" width="3" height="1"/><rect x="124" y="497" width="3" height="1"/><rect x="130" y="497" width="3" height="1"/><rect x="136" y="497" width="3" height="1"/><rect x="142" y="497" width="3" height="1"/><rect x="148" y="497" width="3" height="1"/><rect x="154" y="497" width="3" height="1"/><rect x="160" y="497" width="3" height="1"/><rect x="166" y="497" width="3" height="1"/><rect x="172" y="497" width="3" height="1"/><rect x="178" y="497" width="3" height="1"/><rect x="184" y="497" width="3" height="1"/><rect x="190" y="497" width="3" height="1"/><rect x="196" y="497" width="3" height="1"/><rect x="202" y="497" width="3" height="1"/><rect x="208" y="497" width="3" height="1"/><rect x="214" y="497" width="3" height="1"/><rect x="220" y="497" width="3" height="1"/><rect x="226" y="497" width="3" height="1"/><rect x="232" y="497" width="3" height="1"/><rect x="238" y="497" width="3" height="1"/><rect x="244" y="497" width="3" height="1"/><rect x="250" y="497" width="3" height="1"/><rect x="256" y="497" width="3" height="1"/><rect x="262" y="497" width="3" height="1"/><rect x="268" y="497" width="3" height="1"/><rect x="274" y="497" width="3" height="1"/><rect x="280" y="497" width="3" height="1"/><rect x="286" y="497" width="3" height="1"/><rect x="292" y="497" width="3" height="1"/><rect x="298" y="497" width="3" height="1"/><rect x="304" y="497" width="3" height="1"/><rect x="310" y="497" width="3" height="1"/><rect x="316" y="497" width="3" height="1"/><rect x="322" y="497" width="3" height="1"/><rect x="328" y="497" width="3" height="1"/><rect x="334" y="497" width="3" height="1"/><rect x="340" y="497" width="3" height="1"/><rect x="346" y="497" width="3" height="1"/><rect x="352" y="497" width="3" height="1"/><rect x="358" y="497" width="3" height="1"/><rect x="364" y="497" width="3" height="1"/><rect x="370" y="497" width="3" height="1"/><rect x="376" y="497" width="3" height="1"/><rect x="382" y="497" width="3" height="1"/><rect x="388" y="497" width="3" height="1"/><rect x="394" y="497" width="3" height="1"/><rect x="400" y="497" width="3" height="1"/><rect x="406" y="497" width="3" height="1"/><rect x="412" y="497" width="3" height="1"/><rect x="418" y="497" width="3" height="1"/><rect x="424" y="497" width="3" height="1"/><rect x="430" y="497" width="3" height="1"/><rect x="436" y="497" width="3" height="1"/><rect x="442" y="497" width="3" height="1"/><rect x="448" y="497" width="3" height="1"/><rect x="454" y="497" width="3" height="1"/><rect x="460" y="497" width="3" height="1"/><rect x="466" y="497" width="3" height="1"/><rect x="472" y="497" width="3" height="1"/><rect x="478" y="497" width="3" height="1"/><rect x="484" y="497" width="3" height="1"/><rect x="490" y="497" width="3" height="1"/><rect x="496" y="497" width="3" height="1"/><rect x="502" y="497" width="3" height="1"/><rect x="508" y="497" width="3" height="1"/><rect x="514" y="497" width="3" height="1"/><rect x="520" y="497" width="3" height="1"/><rect x="526" y="497" width="3" height="1"/><rect x="532" y="497" width="3" height="1"/><rect x="538" y="497" width="3" height="1"/><rect x="544" y="497" width="3" height="1"/><rect x="550" y="497" width="3" height="1"/><rect x="556" y="497" width="1" height="1"/></g>
<g fill="#C0C0C0" shape-rendering="crispEdges"><rect x="4" y="543" width="3" height="1"/><rect x="10" y="543" width="3" height="1"/><rect x="16" y="543" width="3" height="1"/><rect x="22" y="543" width="3" height="1"/><rect x="28" y="543" width="3" height="1"/><rect x="34" y="543" width="3" height="1"/><rect x="40" y="543" width="3" height="1"/><rect x="46" y="543" width="3" height="1"/><rect x="52" y="543" width="3" height="1"/><rect x="58" y="543" width="3" height="1"/><rect x="64" y="543" width="3" height="1"/><rect x="70" y="543" width="3" height="1"/><rect x="76" y="543" width="3" height="1"/><rect x="82" y="543" width="3" height="1"/><rect x="88" y="543" width="3" height="1"/><rect x="94" y="543" width="3" height="1"/><rect x="100" y="543" width="3" height="1"/><rect x="106" y="543" width="3" height="1"/><rect x="112" y="543" width="3" height="1"/><rect x="118" y="543" width="3" height="1"/><rect x="124" y="543" width="3" height="1"/><rect x="130" y="543" width="3" height="1"/><rect x="136" y="543" width="3" height="1"/><rect x="142" y="543" width="3" height="1"/><rect x="148" y="543" width="3" height="1"/><rect x="154" y="543" width="3" height="1"/><rect x="160" y="543" width="3" height="1"/><rect x="166" y="543" width="3" height="1"/><rect x="172" y="543" width="3" height="1"/><rect x="178" y="543" width="3" height="1"/><rect x="184" y="543" width="3" height="1"/><rect x="190" y="543" width="3" height="1"/><rect x="196" y="543" width="3" height="1"/><rect x="202" y="543" width="3" height="1"/><rect x="208" y="543" width="3" height="1"/><rect x="214" y="543" width="3" height="1"/><rect x="220" y="543" width="3" height="1"/><rect x="226" y="543" width="3" height="1"/><rect x="232" y="543" width="3" height="1"/><rect x="238" y="543" width="3" height="1"/><rect x="244" y="543" width="3" height="1"/><rect x="250" y="543" width="3" height="1"/><rect x="256" y="543" width="3" height="1"/><rect x="262" y="543" width="3" height="1"/><rect x="268" y="543" width="3" height="1"/><rect x="274" y="543" width="3" height="1"/><rect x="280" y="543" width="3" height="1"/><rect x="286" y="543" width="3" height="1"/><rect x="292" y="543" width="3" height="1"/><rect x="298" y="543" width="3" height="1"/><rect x="304" y="543" width="3" height="1"/><rect x="310" y="543" width="3" height="1"/><rect x="316" y="543" width="3" height="1"/><rect x="322" y="543" width="3" height="1"/><rect x="328" y="543" width="3" height="1"/><rect x="334" y="543" width="3" height="1"/><rect x="340" y="543" width="3" height="1"/><rect x="346" y="543" width="3" height="1"/><rect x="352" y="543" width="3" height="1"/><rect x="358" y="543" width="3" height="1"/><rect x="364" y="543" width="3" height="1"/><rect x="370" y="543" width="3" height="1"/><rect x="376" y="543" width="3" height="1"/><rect x="382" y="543" width="3" height="1"/><rect x="388" y="543" width="3" height="1"/><rect x="394" y="543" width="3" height="1"/><rect x="400" y="543" width="3" height="1"/><rect x="406" y="543" width="3" height="1"/><rect x="412" y="543" width="3" height="1"/><rect x="418" y="543" width="3" height="1"/><rect x="424" y="543" width="3" height="1"/><rect x="430" y="543" width="3" height="1"/><rect x="436" y="543" width="3" height="1"/><rect x="442" y="543" width="3" height="1"/><rect x="448" y="543" width="3" height="1"/><rect x="454" y="543" width="3" height="1"/><rect x="460" y="543" width="3" height="1"/><rect x="466" y="543" width="3" height="1"/><rect x="472" y="543" width="3" height="1"/><rect x="478" y="543" width="3" height="1"/><rect x="484" y="543" width="3" height="1"/><rect x="490" y="543" width="3" height="1"/><rect x="496" y="543" width="3" height="1"/><rect x="502" y="543" width="3" height="1"/><rect x="508" y="543" width="3" height="1"/><rect x="514" y="543" width="3" height="1"/><rect x="520" y="543" width="3" height="1"/><rect x="526" y="543" width="3" height="1"/><rect x="532" y="543" width="3" height="1"/><rect x="538" y="543" width="3" height="1"/><rect x="544" y="543" width="3" height="1"/><rect x="550" y="543" width="3" height="1"/><rect x="556" y="543" width="1" height="1"/></g>
<polyline fill="none" stroke="#1E90FF" stroke-width="1" stroke-linejoin="round" shape-rendering="crispEdges" points="3.3,511.3 7.3,507.3 9.3,512.7 11.3,509.3 13.3,516.7 15.3,517.3 18.0,519.3 20.7,518.7 23.3,525.3 25.3,526.0 27.3,532.0 29.3,531.3 32.0,524.7 35.3,520.7 37.7,508.0 40.0,510.7 42.0,515.3 44.0,526.0 45.3,524.7 48.0,533.3 50.0,532.7 52.0,527.3 54.0,529.3 56.0,523.3 58.0,520.7 59.3,514.7 61.3,512.0 63.3,515.3 66.0,512.7 69.3,507.3 71.3,515.3 75.3,511.3 77.3,519.3 80.0,520.0 82.0,523.3 84.0,523.3 85.3,520.7 87.3,529.3 89.3,526.0 92.0,523.3 93.3,518.0 95.3,516.0 97.3,512.0 99.3,505.3 101.3,517.3 103.3,521.3 106.0,519.3 108.7,515.3 111.3,524.0 114.7,522.0 117.3,514.7 119.3,514.0 122.0,511.3 123.3,514.0 125.3,506.7 127.3,503.7 129.3,521.3 131.3,523.3 133.3,531.3 137.3,528.7 140.0,537.3 143.3,545.3 146.0,538.0 148.0,536.7 150.0,538.0 153.3,531.3 156.7,524.0 159.3,533.3 162.0,528.0 164.7,524.0 167.3,523.3 169.3,521.3 171.3,524.0 173.3,526.0 175.3,519.3 177.3,519.3 180.0,531.3 182.7,536.7 185.3,542.7 188.0,541.3 190.7,543.3 193.3,547.3 196.0,544.7 198.7,545.3 200.0,539.3 203.3,535.3 205.3,540.0 208.0,530.7 210.7,518.0 213.3,522.7 215.3,516.0 218.0,513.3 220.0,506.0 222.7,502.7 225.3,505.3 227.3,498.0 229.3,507.3 232.0,503.3 234.0,503.3 236.7,501.3 240.0,504.7 241.3,508.7 244.0,507.3 246.0,507.3 248.0,504.0 250.0,504.0 251.3,498.7 253.3,495.3 255.3,499.3 257.3,505.3 259.3,504.0 261.3,507.3 263.3,502.7 265.3,508.0 267.3,505.3 269.3,501.3 271.3,505.3 273.3,509.3 275.3,506.7 277.3,508.0 280.7,504.0 282.7,511.3 285.3,512.7 288.0,515.3 289.3,512.7 291.3,528.0 293.3,524.7 295.3,526.0 297.3,526.0 299.3,531.3 301.3,535.3 303.3,529.3 305.3,526.0 307.3,524.7 308.7,512.7 309.3,507.3 310.7,511.3 313.3,508.7 315.3,506.7 317.3,512.7 320.0,515.3 321.3,520.7 325.3,522.0 329.3,514.7 332.0,519.3 334.7,522.7 337.3,528.7 340.0,530.0 343.3,537.3 347.3,537.3 349.3,532.7 351.3,523.3 355.3,519.3 359.3,533.3 365.3,521.3 369.3,534.0 372.0,534.7 374.7,524.7 377.3,522.7 379.3,536.0 382.7,536.7 384.7,538.7 387.3,543.3 390.0,538.0 393.3,534.7 396.0,528.7 398.7,526.0 401.3,528.3 403.3,521.0 406.0,517.7 408.0,516.3 409.3,513.7 411.3,521.7 415.3,525.0 417.3,519.7 419.3,525.7 421.3,534.3 424.0,519.0 426.7,514.3 430.0,508.3 433.3,511.0 437.3,510.3 439.3,505.0 441.3,506.3 443.3,501.7 446.0,506.3 451.3,516.3 455.3,511.0 457.3,510.3 460.0,501.0 462.7,497.0 464.0,498.3 466.7,513.7 469.3,515.0 471.3,518.3 474.7,514.3 477.7,510.0 480.3,502.0 482.3,493.3 483.7,490.7 485.7,496.0 487.7,488.7 489.7,486.7 491.7,486.7 493.7,494.0 496.3,494.0 499.0,488.7 501.0,494.7 505.0,493.3 507.7,498.7 509.7,500.0 513.0,506.0 515.0,508.7 517.7,510.0 521.0,515.3 523.0,513.3 525.7,521.3 527.7,526.0 529.4,511.3 531.7,516.7 535.0,511.3 537.7,515.3 540.3,516.4 543.0,516.4"/>
<text x="7.5" y="473" font-size="10" fill="#000" textLength="30.5" lengthAdjust="spacingAndGlyphs" stroke="#000" stroke-width="0.15">RSI(14)</text>
<text x="42" y="473" font-size="10" fill="#000" textLength="32" lengthAdjust="spacingAndGlyphs" stroke="#000" stroke-width="0.15">53.4411</text>
<g fill="none" stroke="#000" stroke-width="1" shape-rendering="crispEdges">
<rect x="2.5" y="2.5" width="555" height="340"/>
<rect x="2.5" y="344.5" width="555" height="114"/>
<rect x="2.5" y="460.5" width="555" height="119"/>
</g>
<rect x="558" y="9" width="3" height="1" fill="#000"/>
<text x="563" y="13.5" font-size="10" fill="#000" textLength="32" lengthAdjust="spacingAndGlyphs" stroke="#000" stroke-width="0.15">0.80950</text>
<rect x="558" y="42" width="3" height="1" fill="#000"/>
<text x="563" y="46.5" font-size="10" fill="#000" textLength="32" lengthAdjust="spacingAndGlyphs" stroke="#000" stroke-width="0.15">0.80000</text>
<rect x="558" y="75" width="3" height="1" fill="#000"/>
<text x="563" y="79.5" font-size="10" fill="#000" textLength="32" lengthAdjust="spacingAndGlyphs" stroke="#000" stroke-width="0.15">0.79050</text>
<rect x="558" y="108" width="3" height="1" fill="#000"/>
<text x="563" y="112.5" font-size="10" fill="#000" textLength="32" lengthAdjust="spacingAndGlyphs" stroke="#000" stroke-width="0.15">0.78100</text>
<rect x="558" y="141" width="3" height="1" fill="#000"/>
<text x="563" y="145.5" font-size="10" fill="#000" textLength="32" lengthAdjust="spacingAndGlyphs" stroke="#000" stroke-width="0.15">0.77150</text>
<rect x="558" y="174" width="3" height="1" fill="#000"/>
<text x="563" y="178.5" font-size="10" fill="#000" textLength="32" lengthAdjust="spacingAndGlyphs" stroke="#000" stroke-width="0.15">0.76175</text>
<rect x="558" y="207" width="3" height="1" fill="#000"/>
<text x="563" y="211.5" font-size="10" fill="#000" textLength="32" lengthAdjust="spacingAndGlyphs" stroke="#000" stroke-width="0.15">0.75225</text>
<rect x="558" y="240" width="3" height="1" fill="#000"/>
<text x="563" y="244.5" font-size="10" fill="#000" textLength="32" lengthAdjust="spacingAndGlyphs" stroke="#000" stroke-width="0.15">0.74275</text>
<rect x="558" y="273" width="3" height="1" fill="#000"/>
<text x="563" y="277.5" font-size="10" fill="#000" textLength="32" lengthAdjust="spacingAndGlyphs" stroke="#000" stroke-width="0.15">0.73325</text>
<rect x="558" y="306" width="3" height="1" fill="#000"/>
<text x="563" y="310.5" font-size="10" fill="#000" textLength="32" lengthAdjust="spacingAndGlyphs" stroke="#000" stroke-width="0.15">0.72375</text>
<rect x="558" y="339" width="3" height="1" fill="#000"/>
<text x="563" y="343.5" font-size="10" fill="#000" textLength="32" lengthAdjust="spacingAndGlyphs" stroke="#000" stroke-width="0.15">0.71425</text>
<rect x="559" y="71" width="41" height="11" fill="#000"/>
<text x="563" y="80.5" font-size="10" fill="#fff" textLength="32" lengthAdjust="spacingAndGlyphs" stroke="#fff" stroke-width="0.15">0.79013</text>
<rect x="559" y="110" width="41" height="11" fill="#2F4F4F"/>
<text x="563" y="119.5" font-size="10" fill="#fff" textLength="32" lengthAdjust="spacingAndGlyphs" stroke="#fff" stroke-width="0.15">0.77850</text>
<path d="M6,9 L13,9 L9.5,13 Z" fill="#000"/>
<text x="19" y="14" font-size="10" fill="#000" textLength="64" lengthAdjust="spacingAndGlyphs" stroke="#000" stroke-width="0.15">AUDUSD,Daily</text>
<text x="90" y="14" font-size="10" fill="#000" textLength="33" lengthAdjust="spacingAndGlyphs" stroke="#000" stroke-width="0.15">0.78990</text>
<text x="126" y="14" font-size="10" fill="#000" textLength="33" lengthAdjust="spacingAndGlyphs" stroke="#000" stroke-width="0.15">0.79040</text>
<text x="162" y="14" font-size="10" fill="#000" textLength="33" lengthAdjust="spacingAndGlyphs" stroke="#000" stroke-width="0.15">0.78847</text>
<text x="198" y="14" font-size="10" fill="#000" textLength="33" lengthAdjust="spacingAndGlyphs" stroke="#000" stroke-width="0.15">0.79013</text>
<rect x="558" y="346" width="2" height="1" fill="#000"/>
<text x="562" y="355.5" font-size="10" fill="#000" textLength="32" lengthAdjust="spacingAndGlyphs" stroke="#000" stroke-width="0.15">0.01159</text>
<text x="562" y="411.5" font-size="10" fill="#000" textLength="17" lengthAdjust="spacingAndGlyphs" stroke="#000" stroke-width="0.15">0.00</text>
<text x="561" y="411.5" font-size="10" fill="#000" textLength="5.5" lengthAdjust="spacingAndGlyphs" stroke="#000" stroke-width="0.15">0</text>
<text x="562" y="456.5" font-size="10" fill="#000" textLength="44" lengthAdjust="spacingAndGlyphs" stroke="#000" stroke-width="0.15">-0.009408</text>
<text x="562" y="471.5" font-size="10" fill="#000" textLength="14" lengthAdjust="spacingAndGlyphs" stroke="#000" stroke-width="0.15">100</text>
<rect x="558" y="497" width="3" height="1" fill="#000"/>
<text x="561" y="501.5" font-size="10" fill="#000" textLength="9" lengthAdjust="spacingAndGlyphs" stroke="#000" stroke-width="0.15">70</text>
<rect x="558" y="543" width="3" height="1" fill="#000"/>
<text x="561" y="547.5" font-size="10" fill="#000" textLength="9" lengthAdjust="spacingAndGlyphs" stroke="#000" stroke-width="0.15">30</text>
<text x="561" y="576.5" font-size="10" fill="#000" textLength="5" lengthAdjust="spacingAndGlyphs" stroke="#000" stroke-width="0.15">0</text>
<rect x="3" y="580" width="1" height="4" fill="#000"/>
<text x="2.2" y="592" font-size="10" fill="#000" textLength="52" lengthAdjust="spacingAndGlyphs" stroke="#000" stroke-width="0.1">12 Aug 2016</text>
<rect x="67" y="580" width="1" height="4" fill="#000"/>
<text x="66.2" y="592" font-size="10" fill="#000" textLength="52" lengthAdjust="spacingAndGlyphs" stroke="#000" stroke-width="0.1">27 Sep 2016</text>
<rect x="131" y="580" width="1" height="4" fill="#000"/>
<text x="130.2" y="592" font-size="10" fill="#000" textLength="52" lengthAdjust="spacingAndGlyphs" stroke="#000" stroke-width="0.1">10 Nov 2016</text>
<rect x="195" y="580" width="1" height="4" fill="#000"/>
<text x="194.2" y="592" font-size="10" fill="#000" textLength="52" lengthAdjust="spacingAndGlyphs" stroke="#000" stroke-width="0.1">26 Dec 2016</text>
<rect x="259" y="580" width="1" height="4" fill="#000"/>
<text x="258.2" y="592" font-size="10" fill="#000" textLength="46" lengthAdjust="spacingAndGlyphs" stroke="#000" stroke-width="0.1">8 Feb 2017</text>
<rect x="323" y="580" width="1" height="4" fill="#000"/>
<text x="322.2" y="592" font-size="10" fill="#000" textLength="52" lengthAdjust="spacingAndGlyphs" stroke="#000" stroke-width="0.1">24 Mar 2017</text>
<rect x="387" y="580" width="1" height="4" fill="#000"/>
<text x="386.2" y="592" font-size="10" fill="#000" textLength="48" lengthAdjust="spacingAndGlyphs" stroke="#000" stroke-width="0.1">9 May 2017</text>
<rect x="451" y="580" width="1" height="4" fill="#000"/>
<text x="450.2" y="592" font-size="10" fill="#000" textLength="49" lengthAdjust="spacingAndGlyphs" stroke="#000" stroke-width="0.1">22 Jun 2017</text>
<rect x="515" y="580" width="1" height="4" fill="#000"/>
<text x="514.2" y="592" font-size="10" fill="#000" textLength="47" lengthAdjust="spacingAndGlyphs" stroke="#000" stroke-width="0.1">7 Aug 2017</text>
</svg></body></html>
